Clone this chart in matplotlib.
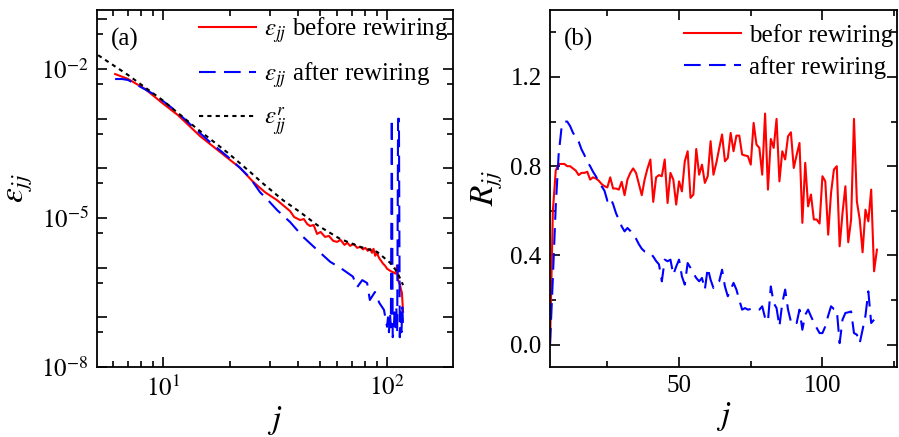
import numpy as np
import matplotlib
matplotlib.use('Agg')
import matplotlib.pyplot as plt
from matplotlib.ticker import FixedLocator, FuncFormatter, NullFormatter, LogLocator

plt.rcParams['font.family'] = ['Liberation Serif', 'DejaVu Serif']
plt.rcParams['mathtext.fontset'] = 'stix'
plt.rcParams['font.size'] = 18

# ---- panel (a): log10 of eps_jj ----
j_before = [6.11, 6.98, 8.31, 9.9, 11.67, 14.63, 17.97, 22.07, 25.22, 28.53,
            32.28, 36.9, 38.5, 40.9, 42.5, 44, 45.3, 47, 48.7, 50.5,
            52.9, 55, 57.5, 59.8, 62, 64.5, 66.5, 68.4, 71, 73.5,
            76, 78.1, 80, 82, 84, 85.7, 87, 88.5, 90.2, 92,
            94, 96, 98, 100, 103.1, 105, 107.4, 109, 110.8, 112,
            113.1, 114.3, 115.5, 116.5, 117.9]
log_before = [-2.10, -2.20, -2.40, -2.68, -2.93, -3.35, -3.67, -3.99, -4.27, -4.48,
              -4.64, -4.86, -4.98, -5.04, -5.02, -5.12, -5.16, -5.14, -5.32, -5.28,
              -5.38, -5.36, -5.46, -5.48, -5.44, -5.54, -5.50, -5.56, -5.52, -5.60,
              -5.58, -5.63, -5.60, -5.66, -5.62, -5.70, -5.62, -5.76, -5.70, -5.80,
              -5.86, -5.92, -5.96, -6.02, -6.06, -6.08, -6.10, -6.12, -5.96, -6.25,
              -6.30, -6.35, -6.45, -6.50, -6.89]

j_after = [6.11, 6.56, 6.98, 7.66, 9.21, 11.3, 13.5, 16.2, 19.5, 22.07,
           24.45, 27.1, 29.4, 32.3, 36.9, 42.2, 48.7, 55.7, 63.6, 70.4,
           73.6, 77.5, 81.5, 83.8, 88.3, 92.4, 96.9, 100, 101, 102,
           103, 104, 105, 106, 107, 108, 109, 110, 111, 112,
           113, 114, 115, 116, 117, 118]
log_after = [-2.20, -2.20, -2.22, -2.32, -2.52, -2.83, -3.15, -3.47, -3.77, -3.99,
             -4.19, -4.48, -4.64, -4.84, -5.08, -5.38, -5.64, -5.88, -6.04, -6.18,
             -6.39, -6.25, -6.31, -6.65, -6.49, -6.71, -6.85, -7.19, -7.0, -7.3,
             -6.9, -7.2, -3.0, -7.4, -7.3, -6.9, -7.2, -6.8, -7.3, -3.0,
             -3.0, -7.4, -6.9, -7.3, -6.8, -7.2]

j_random = [5.13, 6.98, 9.9, 13.9, 19.5, 24.45, 27.7, 34.3, 40.9, 48.7,
            61.7, 75.8, 90.2, 103.1, 110.8, 117.9]
log_random = [-1.72, -2.12, -2.62, -3.17, -3.69, -4.07, -4.29, -4.64, -4.88, -5.14,
              -5.42, -5.58, -5.68, -5.90, -6.08, -6.35]

# ---- panel (b): R_jj ----
j_R_before = list(range(5, 120))
R_before = [0.00, 0.60, 0.78, 0.81, 0.81, 0.81, 0.80, 0.80, 0.79, 0.78,
            0.76, 0.77, 0.77, 0.775, 0.74, 0.75, 0.745, 0.735, 0.72, 0.71,
            0.705, 0.75, 0.70, 0.70, 0.695, 0.73, 0.67, 0.74, 0.77, 0.79,
            0.77, 0.72, 0.67, 0.74, 0.79, 0.83, 0.64, 0.75, 0.76, 0.755,
            0.83, 0.635, 0.77, 0.74, 0.628, 0.732, 0.687, 0.822, 0.867, 0.658,
            0.673, 0.877, 0.762, 0.807, 0.725, 0.755, 0.912, 0.762, 0.815, 0.88,
            0.942, 0.822, 0.837, 0.949, 0.867, 0.937, 0.937, 0.852, 0.848, 0.845,
            0.807, 0.994, 0.897, 0.882, 0.762, 1.036, 0.695, 0.922, 0.882, 1.012,
            0.732, 0.867, 0.83, 0.934, 0.952, 0.792, 0.85, 0.904, 0.546, 0.815,
            0.62, 0.673, 0.561, 0.561, 0.543, 0.755, 0.732, 0.493, 0.68, 0.785,
            0.80, 0.441, 0.59, 0.71, 0.459, 0.561, 1.012, 0.643, 0.561, 0.414,
            0.605, 0.553, 0.695, 0.329, 0.426]

j_R_after = list(range(5, 119))
R_after = [0.0, 0.30, 0.62, 0.85, 0.97, 1.00, 1.00, 0.98, 0.95, 0.93,
           0.91, 0.875, 0.85, 0.82, 0.80, 0.775, 0.755, 0.73, 0.71, 0.69,
           0.645, 0.66, 0.63, 0.59, 0.56, 0.53, 0.508, 0.523, 0.51, 0.49,
           0.475, 0.45, 0.43, 0.418, 0.415, 0.411, 0.395, 0.375, 0.36, 0.284,
           0.381, 0.374, 0.381, 0.314, 0.35, 0.381, 0.306, 0.269, 0.366, 0.344,
           0.32, 0.299, 0.284, 0.299, 0.247, 0.344, 0.291, 0.254, 0.27, 0.284,
           0.336, 0.261, 0.217, 0.247, 0.277, 0.247, 0.20, 0.157, 0.164, 0.157,
           0.16, 0.155, 0.157, 0.157, 0.172, 0.12, 0.104, 0.261, 0.187, 0.164,
           0.082, 0.187, 0.247, 0.157, 0.104, 0.112, 0.097, 0.157, 0.067, 0.134,
           0.157, 0.127, 0.10, 0.075, 0.052, 0.052, 0.082, 0.13, 0.172, 0.16,
           0.157, 0.007, 0.112, 0.142, 0.145, 0.149, 0.052, 0.045, 0.007, 0.067,
           0.13, 0.239, 0.097, 0.112]

fig = plt.figure(figsize=(8.99, 4.37), dpi=100)
ax1 = fig.add_axes([97/899, 70/437, 356/899, 357/437])
ax2 = fig.add_axes([550/899, 70/437, 347/899, 357/437])

dash = (0, (8, 4))
ax1.plot(j_before, 10**np.array(log_before), color='red', lw=1.5,
         label=r'$\varepsilon_{jj}$ before rewiring')
ax1.plot(j_after, 10**np.array(log_after), color='blue', lw=1.5, ls=dash,
         label=r'$\varepsilon_{jj}$ after rewiring')
ax1.plot(j_random, 10**np.array(log_random), color='black', lw=1.5, ls=(0, (2, 2)),
         label=r'$\varepsilon_{jj}^{r}$')

ax1.set_xscale('log')
ax1.set_yscale('log')
ax1.set_xlim(5.07, 197)
ax1.set_ylim(1e-8, 10**-0.81)
ax1.yaxis.set_major_locator(FixedLocator([10.0**k for k in range(-8, 0)]))
ax1.yaxis.set_major_formatter(FuncFormatter(
    lambda v, p: r'$10^{%d}$' % round(np.log10(v)) if round(np.log10(v)) in (-2, -5, -8) else ''))
ax1.yaxis.set_minor_locator(FixedLocator([5 * 10.0**k for k in range(-8, -1)]))
ax1.yaxis.set_minor_formatter(NullFormatter())
ax1.xaxis.set_major_locator(FixedLocator([10, 100]))
ax1.xaxis.set_major_formatter(FuncFormatter(lambda v, p: r'$10^{%d}$' % round(np.log10(v))))
ax1.xaxis.set_minor_locator(LogLocator(subs=np.arange(2, 10)))
ax1.xaxis.set_minor_formatter(NullFormatter())
ax1.set_xlabel(r'$j$', fontsize=24, labelpad=2)
ax1.set_ylabel(r'$\varepsilon_{jj}$', fontsize=24, labelpad=4)
ax1.text(0.04, 0.95, '(a)', transform=ax1.transAxes, va='top', ha='left')
ax1.legend(loc='upper right', frameon=False, handlelength=2.3, handletextpad=0.3,
           labelspacing=0.62, borderaxespad=0.0, borderpad=0.2,
           bbox_to_anchor=(1.0, 1.0))

ax2.plot(j_R_before, R_before, color='red', lw=1.5, label='befor rewiring')
ax2.plot(j_R_after, R_after, color='blue', lw=1.5, ls=dash, label='after rewiring')
ax2.set_xlim(5, 126)
ax2.set_ylim(-0.1, 1.5)
ax2.set_xticks([50, 100])
ax2.set_xticks([25, 75, 125], minor=True)
ax2.set_yticks([0.0, 0.4, 0.8, 1.2])
ax2.set_yticks([0.2, 0.6, 1.0, 1.4], minor=True)
ax2.yaxis.set_major_formatter(FuncFormatter(lambda v, p: '%.1f' % v))
ax2.set_xlabel(r'$j$', fontsize=24, labelpad=2)
ax2.set_ylabel(r'$R_{jj}$', fontsize=24, labelpad=4)
ax2.text(0.04, 0.95, '(b)', transform=ax2.transAxes, va='top', ha='left')
ax2.legend(loc='upper right', frameon=False, handlelength=2.3, handletextpad=0.3,
           labelspacing=0.36, borderaxespad=0.0, borderpad=0.3,
           bbox_to_anchor=(1.01, 0.983))

for ax in (ax1, ax2):
    ax.tick_params(which='both', direction='in', top=True, right=True, width=1.2)
    ax.tick_params(which='major', length=7, pad=6)
    ax.tick_params(which='minor', length=4)
    for s in ax.spines.values():
        s.set_linewidth(1.3)

fig.savefig('out.png', dpi=100)
